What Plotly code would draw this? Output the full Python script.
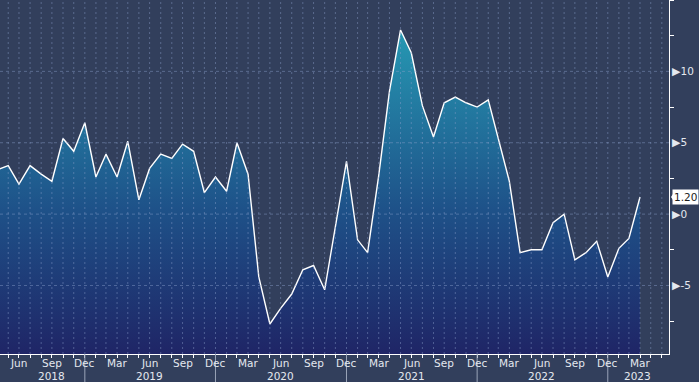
import pandas as pd
import plotly.graph_objects as go

# ---- data (month-end observations) ----
start_month = "2018-04-30"
values = [
    3.1, 3.4, 2.1, 3.4, 2.8, 2.3, 5.3, 4.4, 6.4,                      # 2018 Apr-Dec
    2.6, 4.2, 2.6, 5.1, 1.0, 3.2, 4.2, 3.9, 4.9, 4.4, 1.5, 2.6,       # 2019
    1.6, 5.0, 2.8, -4.4, -7.7, -6.6, -5.6, -3.9, -3.6, -5.3, -0.9, 3.7,  # 2020
    -1.8, -2.7, 2.7, 8.6, 12.9, 11.3, 7.6, 5.4, 7.8, 8.2, 7.8, 7.5,   # 2021
    8.0, 5.3, 2.3, -2.7, -2.5, -2.5, -0.6, 0.0, -3.2, -2.7, -1.9, -4.4,  # 2022
    -2.4, -1.7, 1.2,                                                  # 2023 Jan-Mar
]
last_label = "1.20"

y_tickvals = [-5, 0, 5, 10]
y_minor_vals = [-7.5, -2.5, 2.5, 7.5, 12.5, 15]
quarter_names = {3: "Mar", 6: "Jun", 9: "Sep", 12: "Dec"}
year_labels = ["2018", "2019", "2020", "2021", "2022", "2023"]
year_label_dates = ["2018-09-30", "2019-06-30", "2020-06-30", "2021-06-30", "2022-06-30", "2023-03-24"]
year_sep_dates = ["2018-12-31", "2019-12-31", "2020-12-31", "2021-12-31", "2022-12-31"]

x_range = ["2018-05-08", "2023-06-20"]
y_range = [-9.8, 15.0]

# ---- styling ----
BG = "#323f5c"
GRID = "rgba(140,160,205,0.45)"
TXT = "#e4e8ef"
FONT = "DejaVu Sans"

dates = pd.date_range(start_month, periods=len(values), freq=pd.offsets.MonthEnd())
tick_dates = pd.date_range("2018-05-31", "2023-06-30", freq=pd.offsets.MonthEnd())

fig = go.Figure()
# baseline at the bottom of the axis so the area fills down to the plot floor
fig.add_trace(go.Scatter(x=dates, y=[y_range[0]] * len(values), mode="lines",
                         line=dict(width=0, color=BG), hoverinfo="skip", showlegend=False))
fig.add_trace(go.Scatter(
    x=dates, y=values, mode="lines", fill="tonexty",
    line=dict(color="white", width=1.4),
    fillgradient=dict(type="vertical", start=y_range[0], stop=13,
                      colorscale=[[0, "#1f2566"], [0.45, "#1e5289"], [1, "#2699b3"]]),
    showlegend=False,
))

shapes = []
for d in tick_dates:
    shapes.append(dict(type="line", xref="x", yref="paper", x0=d, x1=d, y0=0, y1=1,
                       line=dict(color=GRID, width=1, dash="2px,3px"), layer="above"))
for v in y_tickvals:
    shapes.append(dict(type="line", xref="paper", yref="y", x0=0, x1=1, y0=v, y1=v,
                       line=dict(color=GRID, width=1, dash="3px,3px"), layer="above"))
for d in year_sep_dates:
    shapes.append(dict(type="line", xref="x", yref="paper", x0=d, x1=d, y0=0, y1=-0.08,
                       line=dict(color="#9aa4b8", width=1), layer="above"))
# pointer of the last-value tag
last = values[-1]
shapes.append(dict(type="path", xref="paper", yref="y",
                   path=f"M 1.003 {last} L 1.009 {last + 0.42} L 1.009 {last - 0.42} Z",
                   fillcolor="white", line=dict(width=0), layer="above"))

annotations = []
for d in tick_dates:
    if d.month in quarter_names:
        annotations.append(dict(x=d, xref="x", y=-0.026, yref="paper", text=quarter_names[d.month],
                                showarrow=False, font=dict(family=FONT, size=10.5, color=TXT),
                                xanchor="center", yanchor="middle"))
for lab, d in zip(year_labels, year_label_dates):
    annotations.append(dict(x=d, xref="x", y=-0.062, yref="paper", text=lab, showarrow=False,
                            font=dict(family=FONT, size=10.5, color=TXT), xanchor="center", yanchor="middle"))
annotations.append(dict(x=1.025, xref="paper", y=last, yref="y", text=last_label, showarrow=False,
                        bgcolor="white", borderpad=1, font=dict(family=FONT, size=10.5, color="#1c1c1c"),
                        xanchor="center", yanchor="middle"))

fig.update_layout(
    width=699, height=382,
    margin=dict(l=0, r=30, t=0, b=28),
    paper_bgcolor=BG, plot_bgcolor=BG,
    font=dict(family=FONT, size=11, color=TXT),
    shapes=shapes, annotations=annotations,
    xaxis=dict(range=x_range, tickmode="array", tickvals=tick_dates, showticklabels=False,
               showgrid=False, showline=True, linecolor="white", linewidth=1,
               ticks="outside", ticklen=3, tickcolor="white", tickwidth=1, automargin=False,
               zeroline=False),
    yaxis=dict(range=y_range, side="right", tickmode="array", tickvals=y_tickvals,
               ticktext=[f"<span style='font-size:11px'>▶</span>{v}" for v in y_tickvals],
               showgrid=False, showline=True, linecolor="white", linewidth=1,
               ticks="", zeroline=False, automargin=False,
               tickfont=dict(family=FONT, size=10.5, color=TXT),
               minor=dict(tickmode="array", tickvals=y_minor_vals, ticks="outside",
                          ticklen=4, tickcolor="white", showgrid=False)),
)

fig.write_html("out.html", config={"displayModeBar": False},
               post_script="document.body.style.margin='0';document.body.style.background='#323f5c';")
